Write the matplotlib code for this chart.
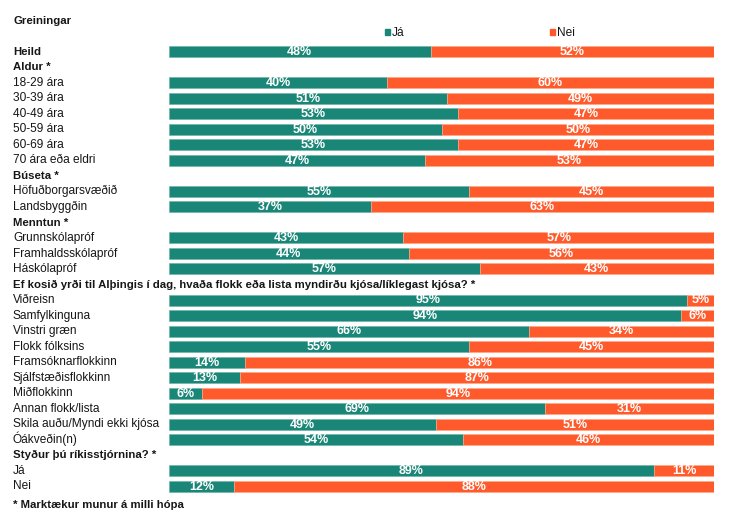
import matplotlib
matplotlib.use('agg')
import matplotlib.pyplot as plt
import numpy as np

# Rows top to bottom; None in ja/nei means a header row without bar
labels = [
    'Heild', 'Aldur *', '18-29 ára', '30-39 ára', '40-49 ára', '50-59 ára',
    '60-69 ára', '70 ára eða eldri', 'Búseta *', 'Höfuðborgarsvæðið',
    'Landsbyggðin', 'Menntun *', 'Grunnskólapróf', 'Framhaldsskólapróf',
    'Háskólapróf',
    'Ef kosið yrði til Alþingis í dag, hvaða flokk eða lista myndirðu kjósa/líklegast kjósa? *',
    'Viðreisn', 'Samfylkinguna', 'Vinstri græn', 'Flokk fólksins',
    'Framsóknarflokkinn', 'Sjálfstæðisflokkinn', 'Miðflokkinn',
    'Annan flokk/lista', 'Skila auðu/Myndi ekki kjósa', 'Óákveðin(n)',
    'Styður þú ríkisstjórnina? *', 'Já', 'Nei',
]
ja = [48, None, 40, 51, 53, 50, 53, 47, None, 55, 37, None, 43, 44, 57,
      None, 95, 94, 66, 55, 14, 13, 6, 69, 49, 54, None, 89, 12]
nei = [52, None, 60, 49, 47, 50, 47, 53, None, 45, 63, None, 57, 56, 43,
       None, 5, 6, 34, 45, 86, 87, 94, 31, 51, 46, None, 11, 88]
bold_rows = ['Heild', 'Aldur *', 'Búseta *', 'Menntun *',
             'Ef kosið yrði til Alþingis í dag, hvaða flokk eða lista myndirðu kjósa/líklegast kjósa? *',
             'Styður þú ríkisstjórnina? *']
series_names = ['Já', 'Nei']
title = 'Greiningar'
footnote = '* Marktækur munur á milli hópa'

TEAL = '#1a8677'
ORANGE = '#fe5a2b'
TXT = '#161616'

plt.rcParams['font.family'] = ['Liberation Sans', 'DejaVu Sans']

W, H = 730, 516
fig = plt.figure(figsize=(W / 100, H / 100), dpi=100)

# pixel layout of the bar area
row0, step = 51.7, 15.52
top_px = row0 - step / 2
bot_px = row0 + step * 29.5
x0_px, x1_px = 169, 714
ax = fig.add_axes([x0_px / W, 1 - bot_px / H, (x1_px - x0_px) / W, (bot_px - top_px) / H])
ax.set_xlim(0, 100)
ax.set_ylim(29.5, -0.5)
ax.axis('off')

label_x = -(x0_px - 13) / (x1_px - x0_px) * 100
for i, lab in enumerate(labels):
    is_bold = lab in bold_rows
    ax.text(label_x, i + 0.2, lab, ha='left', va='baseline',
            fontsize=8.2 if is_bold else 8.6,
            fontweight='bold' if is_bold else 'normal', color=TXT)
    if ja[i] is None:
        continue
    ax.barh(i, ja[i], left=0, height=0.71, color=TEAL, edgecolor='#6fb6aa', linewidth=0.5)
    ax.barh(i, nei[i], left=ja[i], height=0.71, color=ORANGE, edgecolor='#ffa886', linewidth=0.5)
    ax.text(ja[i] / 2, i + 0.22, f'{ja[i]}%', ha='center', va='baseline', color='white',
            fontsize=9, fontweight='bold')
    ax.text(ja[i] + nei[i] / 2, i + 0.22, f'{nei[i]}%', ha='center', va='baseline', color='white',
            fontsize=9, fontweight='bold')

fig.text(13 / W, 1 - 507.5 / H, footnote, ha='left', va='baseline', fontsize=8.2,
         fontweight='bold', color=TXT)

# title and legend
fig.text(13 / W, 1 - 24.5 / H, title, ha='left', va='baseline', fontsize=8.2,
         fontweight='bold', color=TXT)
for name, col, xp in zip(series_names, [TEAL, ORANGE], [385, 550]):
    fig.patches.append(plt.Rectangle((xp / W, 1 - 34.5 / H), 5 / W, 5 / H, color=col,
                                     transform=fig.transFigure, figure=fig))
    fig.text((xp + 7) / W, 1 - 36 / H, name, ha='left', va='baseline', fontsize=8.6, color=TXT)

fig.savefig('out.png', dpi=100)
